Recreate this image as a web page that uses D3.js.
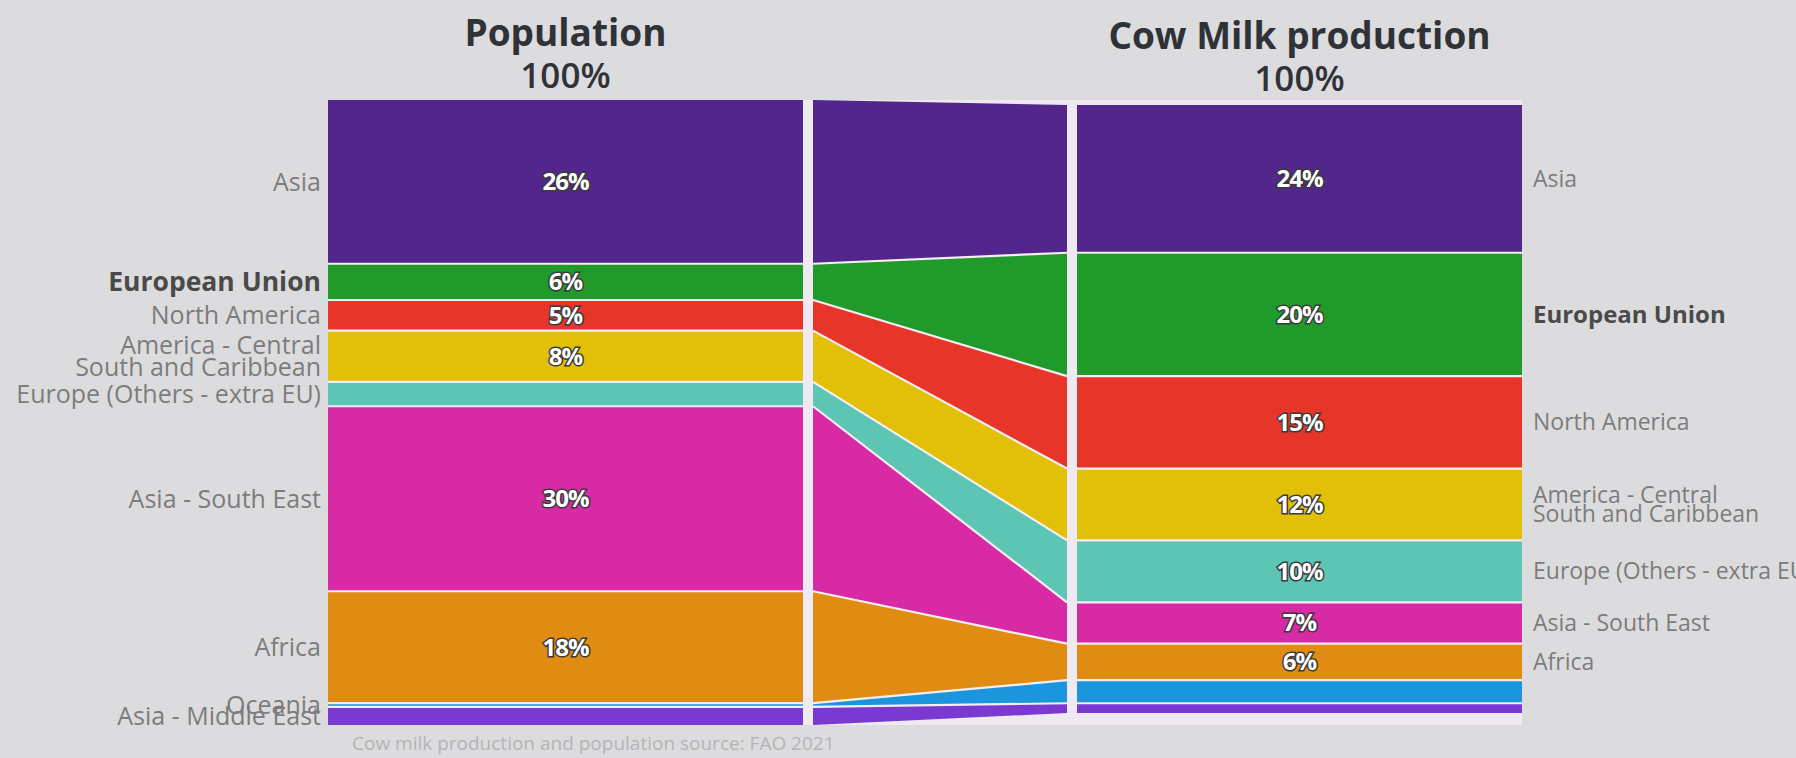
<!DOCTYPE html>
<html>
<head>
<meta charset="utf-8">
<script src="https://cdn.jsdelivr.net/npm/d3@7"></script>
<style>
  html, body { margin: 0; padding: 0; background: #dcdcde; }
  svg { display: block; font-family: "Open Sans", "Noto Sans", sans-serif; }
</style>
</head>
<body>
<svg id="chart" width="1796" height="758"></svg>
<script>
// Regions, in stacking order (top to bottom)
const regions = [
  "Asia",
  "European Union",
  "North America",
  "America - Central\nSouth and Caribbean",
  "Europe (Others - extra EU)",
  "Asia - South East",
  "Africa",
  "Oceania",
  "Asia - Middle East"
];
// Share of world population (%)
const population = [26.2, 5.8, 4.9, 8.2, 3.9, 29.6, 17.9, 0.6, 2.9];
// Share of world cow milk production (%)
const milk = [24.3, 20.3, 15.2, 11.8, 10.2, 6.8, 6.0, 3.8, 1.6];
// Column headers
const titles = ["Population", "Cow Milk production"];
const totals = ["100%", "100%"];
const highlighted = "European Union";
const footnote = "Cow milk production and population source: FAO 2021";

const palette = ["#53268c", "#1f9a2b", "#e8352a", "#e2c008", "#5cc5b3",
                 "#d92aa6", "#e08c12", "#1b95de", "#7a3ad2"];

const svg = d3.select("#chart");

// horizontal layout: left bar | link | right bar
const leftBar = [328, 803], link = [813, 1067], rightBar = [1077, 1522];
const yL = d3.scaleLinear().domain([0, 100]).range([100, 725]);
const yR = d3.scaleLinear().domain([0, 100]).range([105, 713]);
const color = d3.scaleOrdinal().domain(regions).range(palette);

function stack(vals) {
  const ends = d3.cumsum(vals);
  return vals.map((v, i) => ({ region: regions[i], value: v, y0: ends[i] - v, y1: ends[i] }));
}
const popStack = stack(population);
const milkStack = stack(milk);

// light panel behind the chart body (shows through the gaps)
svg.append("rect")
  .attr("x", leftBar[0]).attr("y", yL(0))
  .attr("width", rightBar[1] - leftBar[0]).attr("height", yL(100) - yL(0))
  .attr("fill", "#efe9f1");

// left stacked bar
svg.append("g").selectAll("rect").data(popStack).join("rect")
  .attr("x", leftBar[0]).attr("width", leftBar[1] - leftBar[0])
  .attr("y", d => yL(d.y0)).attr("height", d => yL(d.y1) - yL(d.y0))
  .attr("fill", d => color(d.region));

// right stacked bar
svg.append("g").selectAll("rect").data(milkStack).join("rect")
  .attr("x", rightBar[0]).attr("width", rightBar[1] - rightBar[0])
  .attr("y", d => yR(d.y0)).attr("height", d => yR(d.y1) - yR(d.y0))
  .attr("fill", d => color(d.region));

// straight links between the two bars
const links = popStack.map((p, i) => ({ region: p.region, p, m: milkStack[i] }));
svg.append("g").selectAll("path").data(links).join("path")
  .attr("d", d => d3.line()([
    [link[0], yL(d.p.y0)], [link[1], yR(d.m.y0)],
    [link[1], yR(d.m.y1)], [link[0], yL(d.p.y1)]
  ]) + "Z")
  .attr("fill", d => color(d.region));

// thin light separators between bands
const seps = svg.append("g")
  .attr("stroke", "#f6eef2").attr("stroke-width", 2.2).attr("fill", "none");
popStack.slice(1).forEach((p, k) => {
  const m = milkStack[k + 1];
  seps.append("path").attr("d", d3.line()([[leftBar[0], yL(p.y0)], [leftBar[1], yL(p.y0)]]));
  seps.append("path").attr("d", d3.line()([[link[0], yL(p.y0)], [link[1], yR(m.y0)]]));
  seps.append("path").attr("d", d3.line()([[rightBar[0], yR(m.y0)], [rightBar[1], yR(m.y0)]]));
});

// value labels inside the bars
function valueLabels(data, x, y) {
  svg.append("g").selectAll("text").data(data.filter(d => d.value >= 4.5)).join("text")
    .attr("x", x).attr("y", d => y((d.y0 + d.y1) / 2))
    .attr("dy", "0.35em")
    .attr("text-anchor", "middle")
    .attr("font-size", 24).attr("font-weight", 700)
    .attr("letter-spacing", -1)
    .attr("fill", "#ffffff").attr("stroke", "#3a3a3a").attr("stroke-width", 3)
    .attr("paint-order", "stroke")
    .text(d => Math.round(d.value) + "%");
}
valueLabels(popStack, (leftBar[0] + leftBar[1]) / 2, yL);
valueLabels(milkStack, (rightBar[0] + rightBar[1]) / 2, yR);

// region labels on the outer sides
function regionLabels(data, x, y, anchor, size, boldSize) {
  const t = svg.append("g").selectAll("text").data(data).join("text")
    .attr("x", x)
    .attr("y", d => y((d.y0 + d.y1) / 2))
    .attr("text-anchor", anchor)
    .attr("font-size", d => d.region === highlighted ? boldSize : size)
    .attr("font-weight", d => d.region === highlighted ? 700 : 400)
    .attr("fill", d => d.region === highlighted ? "#4a4a4a" : "#7c7c7c");
  t.each(function (d) {
    const lines = d.region.split("\n");
    const step = 0.86;
    const off = -(lines.length - 1) * step / 2 + 0.35;
    d3.select(this).selectAll("tspan").data(lines).join("tspan")
      .attr("x", x)
      .attr("dy", (l, i) => (i === 0 ? off : step) + "em")
      .text(l => l);
  });
}
regionLabels(popStack, leftBar[0] - 7, yL, "end", 25, 26.5);
regionLabels(milkStack.filter(d => d.value >= 5), rightBar[1] + 11, yR, "start", 23, 24);

// column headers
[[leftBar, titles[0], totals[0], 0], [rightBar, titles[1], totals[1], 3]].forEach(([b, t, tot, dy]) => {
  const cx = (b[0] + b[1]) / 2;
  svg.append("text").attr("x", cx).attr("y", 46 + dy)
    .attr("text-anchor", "middle").attr("font-size", 37).attr("font-weight", 700)
    .attr("fill", "#2f3236").text(t);
  svg.append("text").attr("x", cx).attr("y", 88 + dy)
    .attr("text-anchor", "middle").attr("font-size", 35).attr("font-weight", 600)
    .attr("fill", "#2f3236").text(tot);
});

// source note
svg.append("text").attr("x", leftBar[0] + 24).attr("y", 750)
  .attr("font-size", 19).attr("fill", "#b4b4b6").text(footnote);
</script>
</body>
</html>
